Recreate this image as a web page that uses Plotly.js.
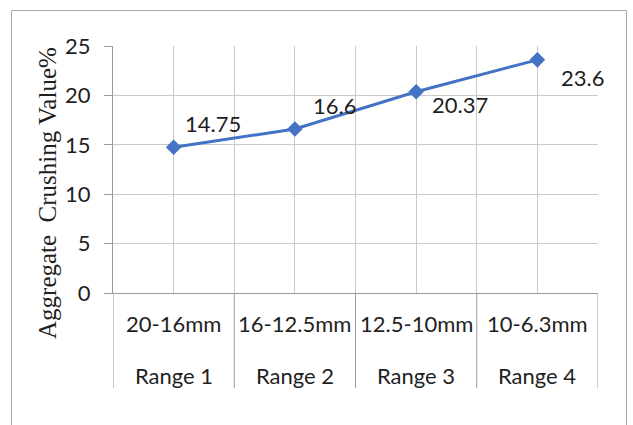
<!DOCTYPE html>
<html>
<head>
<meta charset="utf-8">
<script src="https://cdn.plot.ly/plotly-3.0.1.min.js"></script>
<style>
  html, body { margin: 0; padding: 0; background: #ffffff; }
  #chart { width: 633px; height: 425px; }
</style>
</head>
<body>
<div id="chart"></div>
<script>
// Aggregate crushing value for each particle size range
const ranges = ["Range 1", "Range 2", "Range 3", "Range 4"];
const sizeBands = ["20-16mm", "16-12.5mm", "12.5-10mm", "10-6.3mm"];
const crushingValues = [14.75, 16.6, 20.37, 23.6];
const yTickValues = [0, 5, 10, 15, 20, 25];

// Pixel offsets of each value label from its marker
const labelShift = [[39, 24], [40, 23], [44, -13], [45, -18]];

// Plot-area geometry (pixels)
const W = 633, H = 425;
const plotL = 113, plotR = 598, plotT = 46, plotB = 293;
const plotW = plotR - plotL, plotH = plotB - plotT;
const px2x = p => (p - plotL) / plotW;     // pixel -> paper x
const px2y = p => (plotB - p) / plotH;     // pixel -> paper y

const textFont = "Lato, 'Open Sans', sans-serif";
const textSize = 22;
const textColor = "#1f1f1f";
const gridColor = "#c9c9c9";
const axisColor = "#9a9a9a";
const idx = ranges.map((_, i) => i);

const trace = {
  type: "scatter",
  mode: "lines+markers",
  x: idx,
  y: crushingValues,
  line: { color: "#4472C4", width: 3 },
  marker: { symbol: "diamond", size: 12, color: "#4472C4" },
  hoverinfo: "skip",
  cliponaxis: false
};

const annotations = [];
// value labels
crushingValues.forEach((v, i) => {
  annotations.push({
    x: i, y: v, xref: "x", yref: "y",
    text: String(v), showarrow: false,
    xshift: labelShift[i][0], yshift: labelShift[i][1],
    xanchor: "center", yanchor: "middle",
    font: { family: textFont, size: textSize, color: textColor }
  });
});
// two-level category labels
idx.forEach(i => {
  annotations.push({
    x: i, y: px2y(323), xref: "x", yref: "paper",
    text: sizeBands[i], showarrow: false,
    xanchor: "center", yanchor: "middle",
    font: { family: textFont, size: textSize, color: textColor }
  });
  annotations.push({
    x: i, y: px2y(375), xref: "x", yref: "paper",
    text: ranges[i], showarrow: false,
    xanchor: "center", yanchor: "middle",
    font: { family: textFont, size: textSize, color: textColor }
  });
});
// y-axis title
annotations.push({
  x: px2x(47), y: px2y(193), xref: "paper", yref: "paper",
  text: "Aggregate  Crushing Value%", showarrow: false,
  textangle: -90, xanchor: "center", yanchor: "middle",
  font: { family: "'Liberation Serif', 'Times New Roman', serif", size: 25, color: textColor }
});

const shapes = [];
// category dividers below the axis
for (let b = -0.5; b <= ranges.length - 0.5; b += 1) {
  shapes.push({
    type: "line", xref: "x", yref: "paper",
    x0: b, x1: b, y0: 0, y1: px2y(388),
    line: { color: axisColor, width: 1 }
  });
}
// chart frame
shapes.push({
  type: "rect", xref: "paper", yref: "paper",
  x0: px2x(11.5), x1: px2x(626.5), y0: px2y(445), y1: px2y(10.5),
  line: { color: "#a6a6a6", width: 1 }, fillcolor: "rgba(0,0,0,0)"
});

const layout = {
  width: W, height: H,
  margin: { l: plotL, r: W - plotR, t: plotT, b: H - plotB },
  paper_bgcolor: "#ffffff",
  plot_bgcolor: "#ffffff",
  showlegend: false,
  xaxis: {
    range: [-0.5, ranges.length - 0.5],
    tick0: -0.5, dtick: 0.5,
    showticklabels: false, ticks: "",
    showgrid: true, gridcolor: gridColor, gridwidth: 1,
    zeroline: false,
    showline: true, linecolor: axisColor, linewidth: 1,
    fixedrange: true
  },
  yaxis: {
    range: [0, 25],
    tickvals: yTickValues,
    ticktext: yTickValues.map(String),
    ticks: "outside", ticklen: 8, tickcolor: axisColor, tickwidth: 1,
    ticklabelstandoff: 9,
    tickfont: { family: textFont, size: textSize, color: textColor },
    showgrid: true, gridcolor: gridColor, gridwidth: 1,
    zeroline: false,
    showline: true, linecolor: axisColor, linewidth: 1,
    fixedrange: true
  },
  annotations: annotations,
  shapes: shapes
};

Plotly.newPlot("chart", [trace], layout, { staticPlot: true, displayModeBar: false });
</script>
</body>
</html>
